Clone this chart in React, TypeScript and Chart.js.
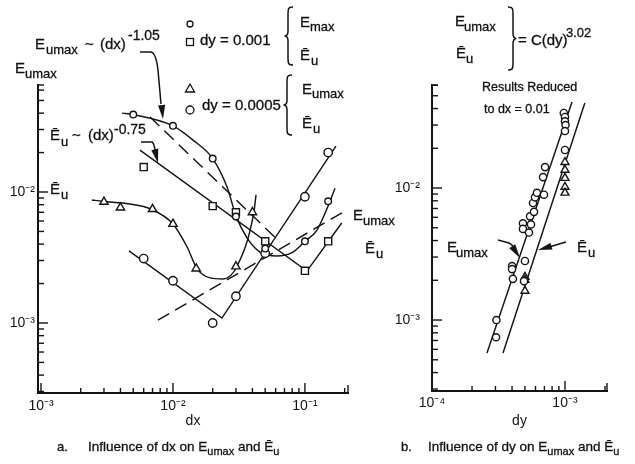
import React, { useEffect, useRef } from 'react';
import { Chart, registerables } from 'chart.js';

Chart.register(...registerables);

// ---------------- Panel a: influence of dx ----------------
// dy = 0.001, E_max (small circles)
const emax001Dx = [0.005, 0.01, 0.02, 0.03, 0.05, 0.1, 0.15];
const emax001E = [0.039, 0.032, 0.018, 0.0065, 0.0037, 0.0042, 0.0085];
// dy = 0.001, E-bar_u (squares)
const ebar001Dx = [0.006, 0.02, 0.03, 0.05, 0.1, 0.15];
const ebar001E = [0.0155, 0.0078, 0.007, 0.0042, 0.0025, 0.0042];
// dy = 0.0005, E_umax (triangles)
const emax0005Dx = [0.003, 0.004, 0.007, 0.01, 0.015, 0.03, 0.04];
const emax0005E = [0.0084, 0.0076, 0.0074, 0.0057, 0.0026, 0.0027, 0.007];
// dy = 0.0005, E-bar_u (circles)
const ebar0005Dx = [0.006, 0.01, 0.02, 0.03, 0.05, 0.1, 0.15];
const ebar0005E = [0.0031, 0.0021, 0.001, 0.0016, 0.0034, 0.0092, 0.02];

// faired curves and lines of panel a
const emax001CurveDx = [0.0041, 0.005, 0.01, 0.0142, 0.02, 0.0257, 0.03, 0.0364, 0.0456, 0.0614, 0.081, 0.1, 0.123, 0.155, 0.169];
const emax001CurveE = [0.04, 0.039, 0.032, 0.0249, 0.018, 0.0109, 0.0066, 0.00446, 0.00348, 0.00325, 0.00348, 0.0042, 0.0051, 0.0085, 0.0107];
const emax0005CurveDx = [0.00243, 0.0029, 0.0047, 0.0068, 0.01, 0.0128, 0.0152, 0.0191, 0.0239, 0.0305, 0.041, 0.0426];
const emax0005CurveE = [0.0087, 0.0085, 0.0081, 0.0074, 0.0057, 0.0038, 0.0026, 0.00221, 0.00217, 0.0027, 0.007, 0.0095];
const ebar0005LineDx = [0.00464, 0.0235, 0.1718];
const ebar0005LineE = [0.00355, 0.00109, 0.0224];
const ebar001LineDx = [0.00562, 0.1035, 0.19];
const ebar001LineE = [0.0209, 0.00249, 0.0058];
const emaxFitDx = [0.0067, 0.0647];
const emaxFitE = [0.0374, 0.00415];
const ebarFitDx = [0.00769, 0.208];
const ebarFitE = [0.00105, 0.0073];

// ---------------- Panel b: influence of dy ----------------
const dyCircleDy = [3.05e-4, 3.03e-4, 4.0e-4, 4.0e-4, 4.06e-4, 5.0e-4, 4.92e-4, 4.83e-4, 5.55e-4, 4.83e-4, 5.36e-4, 5.46e-4, 5.85e-4, 5.75e-4, 5.95e-4, 6.15e-4, 6.95e-4, 6.84e-4, 7.08e-4, 1.0e-3, 0.98e-3, 1.0e-3, 1.0e-3, 1.01e-3, 1.0e-3];
const dyCircleE = [0.001, 0.00074, 0.00256, 0.00243, 0.00205, 0.0028, 0.00197, 0.0054, 0.0053, 0.0049, 0.0046, 0.0061, 0.0066, 0.0077, 0.0085, 0.0092, 0.0089, 0.0121, 0.0144, 0.0194, 0.037, 0.0345, 0.032, 0.03, 0.027];
const dyTriDy = [1.0e-3, 1.0e-3, 1.0e-3, 1.0e-3, 1.0e-3, 5.0e-4, 5.0e-4, 5.0e-4];
const dyTriE = [0.0157, 0.0137, 0.0119, 0.0102, 0.0092, 0.00212, 0.00201, 0.00166];
const emaxDyLineDy = [2.59e-4, 1.13e-3];
const emaxDyLineE = [5.62e-4, 0.0449];
const ebarDyLineDy = [3.42e-4, 1.41e-3];
const ebarDyLineE = [5.62e-4, 0.044];

// ---------------- Axes ----------------
const dxMajorTicks = [0.001, 0.01, 0.1];
const dxTickLabels = ['10⁻³', '10⁻²', '10⁻¹'];
const dxMinorTicks = [0.002, 0.003, 0.004, 0.005, 0.006, 0.007, 0.008, 0.009, 0.02, 0.03, 0.04, 0.05, 0.06, 0.07, 0.08, 0.09, 0.2];
const dyMajorTicks = [0.0001, 0.001];
const dyTickLabels = ['10⁻⁴', '10⁻³'];
const dyMinorTicks = [0.0002, 0.0003, 0.0004, 0.0005, 0.0006, 0.0007, 0.0008, 0.0009, 0.002];
const eMajorTicks = [0.001, 0.01];
const eTickLabels = ['10⁻³', '10⁻²'];
const eMinorTicks = [0.0003, 0.0004, 0.0005, 0.0006, 0.0007, 0.0008, 0.0009, 0.002, 0.003, 0.004, 0.005, 0.006, 0.007, 0.008, 0.009, 0.02, 0.03, 0.04, 0.05, 0.06];

const INK = '#141414';
const FONT = "'Liberation Sans', Arial, Helvetica, sans-serif";

const pts = (xs: number[], ys: number[]) => xs.map((x, i) => ({ x, y: ys[i] }));

const inwardTicks = {
  id: 'inwardTicks',
  afterDraw(chart: any) {
    const { ctx } = chart;
    const xs = chart.scales.x;
    const ys = chart.scales.y;
    ctx.save();
    ctx.strokeStyle = INK;
    ctx.lineWidth = 1.4;
    const seg = (a: number, b: number, c: number, d: number) => {
      ctx.beginPath();
      ctx.moveTo(a, b);
      ctx.lineTo(c, d);
      ctx.stroke();
    };
    xs.ticks.forEach((t: any) => {
      const px = xs.getPixelForValue(t.value);
      seg(px, xs.top, px, xs.top - (t.major ? 10 : 5));
    });
    ys.ticks.forEach((t: any) => {
      const py = ys.getPixelForValue(t.value);
      seg(ys.right, py, ys.right + (t.major ? 10 : 6), py);
    });
    seg(xs.right, xs.top, xs.right, xs.top - 8);
    seg(ys.right, ys.top, ys.right + 6, ys.top);
    ctx.restore();
  },
};

function tickSetter(majors: number[], minors: number[]) {
  return (axis: any) => {
    axis.ticks = [
      ...majors.map((v) => ({ value: v, major: true })),
      ...minors.map((v) => ({ value: v, major: false })),
    ].sort((a, b) => a.value - b.value);
  };
}
function labeler(majors: number[], labels: string[]) {
  return (value: any) => {
    const v = Number(value);
    const i = majors.findIndex((m) => Math.abs(m - v) <= m * 1e-6);
    return i >= 0 ? labels[i] : '';
  };
}

function axis(opts: any) {
  const { min, max, majors, minors, labels, size, horizontal, pad, title } = opts;
  return {
    type: 'logarithmic',
    min,
    max,
    afterBuildTicks: tickSetter(majors, minors),
    afterFit: (s: any) => {
      if (horizontal) s.height = size;
      else s.width = size;
    },
    grid: { display: false, drawTicks: false },
    border: { display: true, color: INK, width: 2 },
    ticks: {
      autoSkip: false,
      maxRotation: 0,
      minRotation: 0,
      padding: pad,
      color: INK,
      font: { family: FONT, size: 14 },
      callback: labeler(majors, labels),
    },
    title: title
      ? { display: true, text: title, color: INK, font: { family: FONT, size: 14 }, padding: { top: 0, bottom: 34 } }
      : { display: false },
  };
}

const marker = (label: string, data: any[], style: string, r: number) => ({
  label,
  data,
  showLine: false,
  pointStyle: style,
  pointRadius: r,
  pointHoverRadius: r,
  pointBackgroundColor: '#ffffff',
  pointBorderColor: INK,
  pointBorderWidth: 1.4,
  order: 1,
});
const line = (label: string, data: any[], extra: any = {}) => ({
  label,
  data,
  showLine: true,
  pointRadius: 0,
  pointHoverRadius: 0,
  borderColor: INK,
  borderWidth: 1.45,
  fill: false,
  order: 2,
  ...extra,
});

function configA(): any {
  return {
    type: 'scatter',
    data: {
      datasets: [
        marker('Emax, dy = 0.001', pts(emax001Dx, emax001E), 'circle', 3.3),
        marker('Ebar u, dy = 0.001', pts(ebar001Dx, ebar001E), 'rect', 5),
        marker('Eumax, dy = 0.0005', pts(emax0005Dx, emax0005E), 'triangle', 4.8),
        marker('Ebar u, dy = 0.0005', pts(ebar0005Dx, ebar0005E), 'circle', 4.2),
        line('Emax curve dy = 0.001', pts(emax001CurveDx, emax001CurveE), { cubicInterpolationMode: 'monotone' }),
        line('Eumax curve dy = 0.0005', pts(emax0005CurveDx, emax0005CurveE), { cubicInterpolationMode: 'monotone' }),
        line('Ebar u line dy = 0.0005', pts(ebar0005LineDx, ebar0005LineE)),
        line('Ebar u line dy = 0.001', pts(ebar001LineDx, ebar001LineE)),
        line('Eumax ~ dx^-1.05', pts(emaxFitDx, emaxFitE), { borderDash: [13, 7] }),
        line('Ebar u fit', pts(ebarFitDx, ebarFitE), { borderDash: [13, 7] }),
      ],
    },
    options: {
      responsive: false,
      animation: false,
      events: [],
      layout: { padding: { left: 0, top: 85, right: 22, bottom: 0 } },
      plugins: { legend: { display: false }, tooltip: { enabled: false } },
      scales: {
        x: axis({ min: 9.49e-4, max: 0.212, majors: dxMajorTicks, minors: dxMinorTicks, labels: dxTickLabels, size: 71, horizontal: true, pad: 5, title: 'dx' }),
        y: axis({ min: 2.92e-4, max: 0.0656, majors: eMajorTicks, minors: eMinorTicks, labels: eTickLabels, size: 38, horizontal: false, pad: 3 }),
      },
    },
    plugins: [inwardTicks],
  };
}

function configB(): any {
  return {
    type: 'scatter',
    data: {
      datasets: [
        marker('Eumax / Ebar u circles', pts(dyCircleDy, dyCircleE), 'circle', 3.6),
        marker('Ebar u triangles', pts(dyTriDy, dyTriE), 'triangle', 4.6),
        line('Eumax = C dy^3.02', pts(emaxDyLineDy, emaxDyLineE)),
        line('Ebar u = C dy^3.02', pts(ebarDyLineDy, ebarDyLineE)),
      ],
    },
    options: {
      responsive: false,
      animation: false,
      events: [],
      layout: { padding: { left: 0, top: 85, right: 28, bottom: 0 } },
      plugins: { legend: { display: false }, tooltip: { enabled: false } },
      scales: {
        x: axis({ min: 1.0e-4, max: 2.07e-3, majors: dyMajorTicks, minors: dyMinorTicks, labels: dyTickLabels, size: 73, horizontal: true, pad: 4, title: 'dy' }),
        y: axis({ min: 2.9e-4, max: 0.0603, majors: eMajorTicks, minors: eMinorTicks, labels: eTickLabels, size: 62, horizontal: false, pad: 12 }),
      },
    },
    plugins: [inwardTicks],
  };
}

type Part = { t: string; x?: number; y: number; s?: number };
function Label({ parts }: { parts: Part[] }) {
  return (
    <text fontFamily={FONT} fill="#111" stroke="#111" strokeWidth={0.3}>
      {parts.map((p, i) => (
        <tspan key={i} x={p.x} y={p.y} fontSize={p.s ?? 15}>
          {p.t}
        </tspan>
      ))}
    </text>
  );
}

function Arrow({ d, from, tip }: { d: string; from: [number, number]; tip: [number, number] }) {
  const dx = tip[0] - from[0];
  const dy = tip[1] - from[1];
  const len = Math.hypot(dx, dy);
  const ux = dx / len;
  const uy = dy / len;
  const bx = tip[0] - ux * 14;
  const by = tip[1] - uy * 14;
  const px = -uy * 3.6;
  const py = ux * 3.6;
  return (
    <g>
      <path d={d} fill="none" stroke={INK} strokeWidth={1.5} />
      <polygon points={`${tip[0]},${tip[1]} ${bx + px},${by + py} ${bx - px},${by - py}`} fill={INK} />
    </g>
  );
}

export default function App() {
  const leftRef = useRef<HTMLCanvasElement>(null);
  const rightRef = useRef<HTMLCanvasElement>(null);

  useEffect(() => {
    const c1 = new Chart(leftRef.current as HTMLCanvasElement, configA());
    const c2 = new Chart(rightRef.current as HTMLCanvasElement, configB());
    return () => {
      c1.destroy();
      c2.destroy();
    };
  }, []);

  return (
    <div style={{ position: 'absolute', left: 0, top: 0, width: 635, height: 464, background: '#fff', overflow: 'hidden' }}>
      <canvas ref={leftRef} width={370} height={464} style={{ position: 'absolute', left: 0, top: 0 }} />
      <canvas ref={rightRef} width={265} height={464} style={{ position: 'absolute', left: 370, top: 0 }} />
      <svg width={635} height={464} style={{ position: 'absolute', left: 0, top: 0, pointerEvents: 'none' }}>
        {/* ---- panel a annotations ---- */}
        <Label parts={[{ t: 'E', x: 35, y: 49 }, { t: 'umax', x: 46, y: 54, s: 13 }, { t: '~', x: 85, y: 49 }, { t: '(dx)', x: 100, y: 49 }, { t: '-1.05', x: 128, y: 40, s: 14 }]} />
        <Arrow d="M 140 52 L 151 52 Q 156 53 158 70 L 161 104" from={[158, 70]} tip={[163, 119]} />
        <Label parts={[{ t: 'E', x: 15, y: 73 }, { t: 'umax', x: 25, y: 78, s: 13 }]} />
        <Label parts={[{ t: 'Ē', x: 50, y: 140 }, { t: 'u', x: 61, y: 146, s: 13 }, { t: '~', x: 72, y: 140 }, { t: '(dx)', x: 88, y: 140 }, { t: '-0.75', x: 114, y: 134, s: 14 }]} />
        <Arrow d="M 141 142 L 152 142 Q 154 143 155 150" from={[153, 142]} tip={[158, 163]} />
        <Label parts={[{ t: 'Ē', x: 50, y: 194 }, { t: 'u', x: 61, y: 199, s: 13 }]} />

        {/* legend of panel a */}
        <circle cx={190} cy={24} r={3} fill="#fff" stroke={INK} strokeWidth={1.3} />
        <rect x={186.5} y={38.5} width={7} height={7} fill="#fff" stroke={INK} strokeWidth={1.3} />
        <Label parts={[{ t: 'dy = 0.001', x: 200, y: 45 }]} />
        <path d="M 293 7 C 288 7 288 9 288 14 L 288 31 C 288 34 287 36 284.5 36 C 287 36 288 38 288 41 L 288 58 C 288 63 288 65 293 65" fill="none" stroke={INK} strokeWidth={1.5} />
        <Label parts={[{ t: 'E', x: 300, y: 27 }, { t: 'max', x: 310, y: 31, s: 13 }]} />
        <Label parts={[{ t: 'Ē', x: 300, y: 60 }, { t: 'u', x: 311, y: 65, s: 13 }]} />
        <polygon points="190,84 185.5,92 194.5,92" fill="#fff" stroke={INK} strokeWidth={1.3} />
        <circle cx={190} cy={110} r={4} fill="#fff" stroke={INK} strokeWidth={1.3} />
        <Label parts={[{ t: 'dy = 0.0005', x: 202, y: 110 }]} />
        <path d="M 292 75 C 287 75 287 77 287 82 L 287 100 C 287 103 286 105 283.5 105 C 286 105 287 107 287 110 L 287 128 C 287 133 287 135 292 135" fill="none" stroke={INK} strokeWidth={1.5} />
        <Label parts={[{ t: 'E', x: 302, y: 94 }, { t: 'umax', x: 312, y: 98, s: 13 }]} />
        <Label parts={[{ t: 'Ē', x: 302, y: 128 }, { t: 'u', x: 313, y: 133, s: 13 }]} />

        <Label parts={[{ t: 'a.', x: 57, y: 451, s: 13 }, { t: 'Influence of dx on E', x: 88, y: 451, s: 13.5 }, { t: 'umax', y: 455, s: 11 }, { t: ' and Ē', y: 451, s: 13.5 }, { t: 'u', y: 455, s: 11 }]} />

        {/* ---- panel b annotations ---- */}
        <Label parts={[{ t: 'E', x: 455, y: 26 }, { t: 'umax', x: 464, y: 31, s: 13 }]} />
        <Label parts={[{ t: 'Ē', x: 456, y: 58 }, { t: 'u', x: 466, y: 63, s: 13 }]} />
        <path d="M 508 7 C 513 7 513 9 513 14 L 513 33 C 513 36 514 38.5 516.5 38.5 C 514 38.5 513 41 513 44 L 513 63 C 513 68 513 70 508 70" fill="none" stroke={INK} strokeWidth={1.5} />
        <Label parts={[{ t: '= C(dy)', x: 518, y: 45 }, { t: '3.02', x: 566, y: 37, s: 13 }]} />
        <Label parts={[{ t: 'Results Reduced', x: 482, y: 91, s: 12.5 }]} />
        <Label parts={[{ t: 'to  dx = 0.01', x: 484, y: 113, s: 12.5 }]} />
        <Label parts={[{ t: 'E', x: 353, y: 220 }, { t: 'umax', x: 363, y: 225, s: 13 }]} />
        <Label parts={[{ t: 'Ē', x: 365, y: 253 }, { t: 'u', x: 376, y: 258, s: 13 }]} />
        <Label parts={[{ t: 'E', x: 447, y: 252 }, { t: 'umax', x: 456, y: 257, s: 13 }]} />
        <Arrow d="M 498 240 L 509 243 Q 513 245 515 250" from={[510, 243]} tip={[520, 258]} />
        <Label parts={[{ t: 'Ē', x: 577, y: 252 }, { t: 'u', x: 588, y: 257, s: 13 }]} />
        <Arrow d="M 566 242 L 549 247" from={[566, 242]} tip={[538, 250]} />

        <Label parts={[{ t: 'b.', x: 401, y: 451, s: 13 }, { t: 'Influence of dy on E', x: 428, y: 451, s: 13.5 }, { t: 'umax', y: 455, s: 11 }, { t: ' and Ē', y: 451, s: 13.5 }, { t: 'u', y: 455, s: 11 }]} />
      </svg>
    </div>
  );
}
